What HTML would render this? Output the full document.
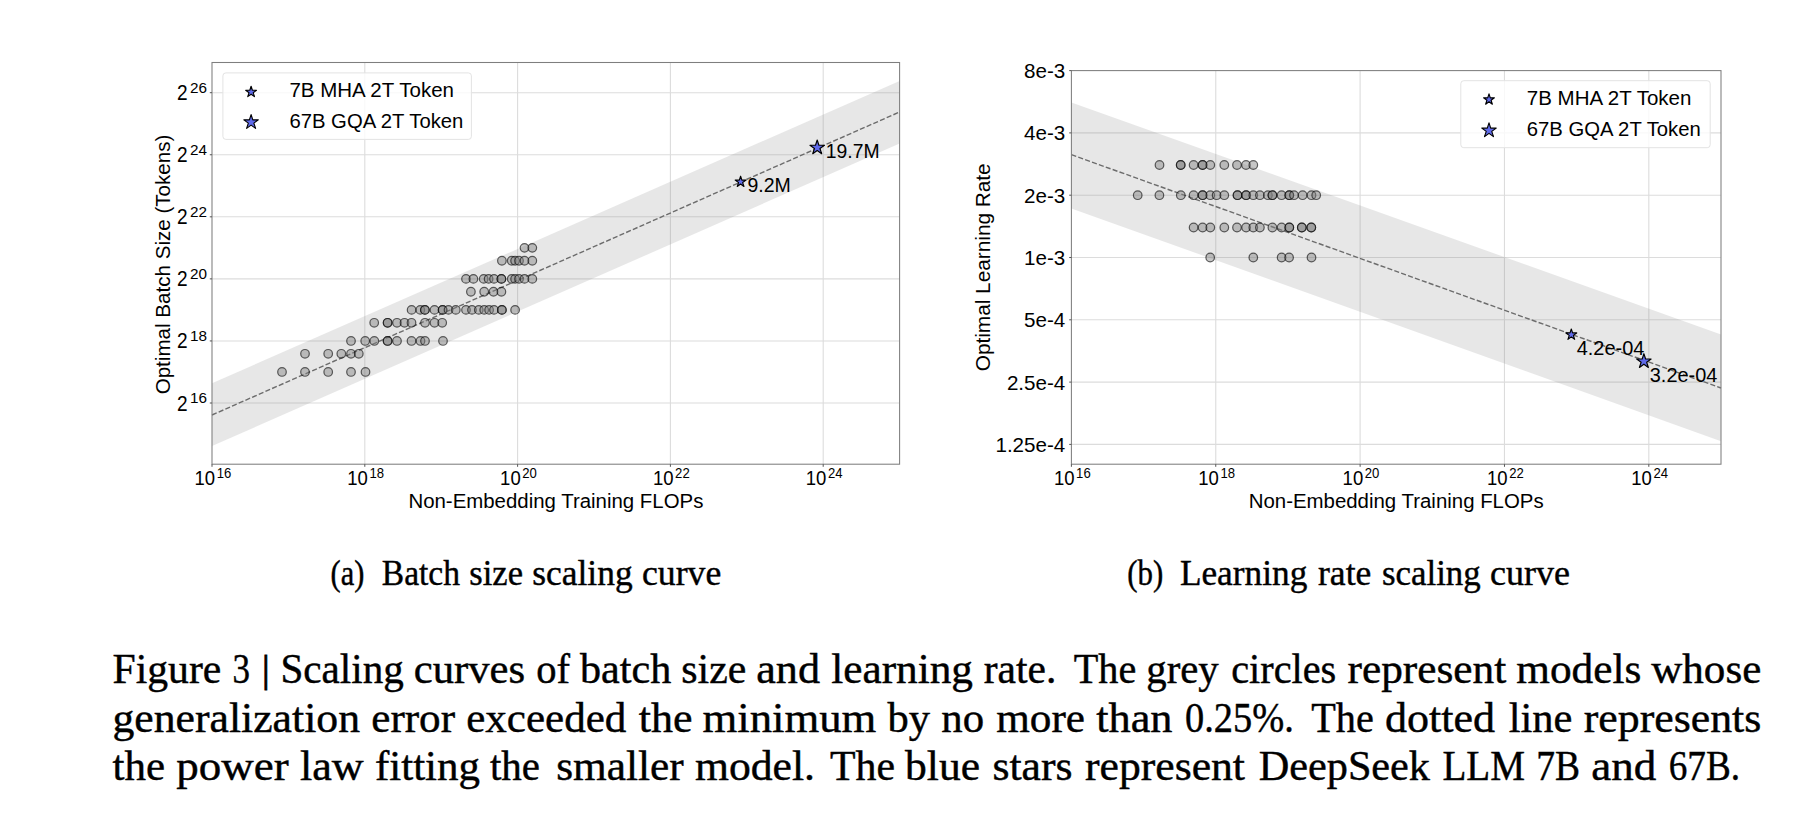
<!DOCTYPE html>
<html><head><meta charset="utf-8"><title>Figure 3 | Scaling curves of batch size and learning rate</title>
<style>html,body{margin:0;padding:0;background:#fff;}body{width:1800px;height:814px;overflow:hidden;}svg{display:block;}text{fill:#000;}</style>
</head><body>
<svg width='1800' height='814' viewBox='0 0 1800 814'>
<g>
<line x1='364.80' y1='62.5' x2='364.80' y2='464.2' stroke='#dcdcdc' stroke-width='1.1'/>
<line x1='517.60' y1='62.5' x2='517.60' y2='464.2' stroke='#dcdcdc' stroke-width='1.1'/>
<line x1='670.40' y1='62.5' x2='670.40' y2='464.2' stroke='#dcdcdc' stroke-width='1.1'/>
<line x1='823.20' y1='62.5' x2='823.20' y2='464.2' stroke='#dcdcdc' stroke-width='1.1'/>
<line x1='212.0' y1='403.00' x2='899.6' y2='403.00' stroke='#dcdcdc' stroke-width='1.1'/>
<line x1='212.0' y1='340.94' x2='899.6' y2='340.94' stroke='#dcdcdc' stroke-width='1.1'/>
<line x1='212.0' y1='278.88' x2='899.6' y2='278.88' stroke='#dcdcdc' stroke-width='1.1'/>
<line x1='212.0' y1='216.82' x2='899.6' y2='216.82' stroke='#dcdcdc' stroke-width='1.1'/>
<line x1='212.0' y1='154.76' x2='899.6' y2='154.76' stroke='#dcdcdc' stroke-width='1.1'/>
<line x1='212.0' y1='92.70' x2='899.6' y2='92.70' stroke='#dcdcdc' stroke-width='1.1'/>
<polygon points='212.0,383.3 899.6,81.0 899.6,143.6 212.0,446.0' fill='#808080' fill-opacity='0.19'/>
<line x1='212.0' y1='415.0' x2='899.6' y2='112.0' stroke='#6c6c6c' stroke-width='1.4' stroke-dasharray='5.1 2.2'/>
<circle cx='282' cy='371.97' r='4.3' fill='#808080' fill-opacity='0.45' stroke='#000' stroke-opacity='0.6' stroke-width='1.2'/>
<circle cx='305' cy='371.97' r='4.3' fill='#808080' fill-opacity='0.45' stroke='#000' stroke-opacity='0.6' stroke-width='1.2'/>
<circle cx='328.2' cy='371.97' r='4.3' fill='#808080' fill-opacity='0.45' stroke='#000' stroke-opacity='0.6' stroke-width='1.2'/>
<circle cx='351' cy='371.97' r='4.3' fill='#808080' fill-opacity='0.45' stroke='#000' stroke-opacity='0.6' stroke-width='1.2'/>
<circle cx='365.5' cy='371.97' r='4.3' fill='#808080' fill-opacity='0.45' stroke='#000' stroke-opacity='0.6' stroke-width='1.2'/>
<circle cx='305' cy='353.82' r='4.3' fill='#808080' fill-opacity='0.45' stroke='#000' stroke-opacity='0.6' stroke-width='1.2'/>
<circle cx='328.2' cy='353.82' r='4.3' fill='#808080' fill-opacity='0.45' stroke='#000' stroke-opacity='0.6' stroke-width='1.2'/>
<circle cx='341.3' cy='353.82' r='4.3' fill='#808080' fill-opacity='0.45' stroke='#000' stroke-opacity='0.6' stroke-width='1.2'/>
<circle cx='351' cy='353.82' r='4.3' fill='#808080' fill-opacity='0.45' stroke='#000' stroke-opacity='0.6' stroke-width='1.2'/>
<circle cx='358.8' cy='353.82' r='4.3' fill='#808080' fill-opacity='0.45' stroke='#000' stroke-opacity='0.6' stroke-width='1.2'/>
<circle cx='351' cy='340.94' r='4.3' fill='#808080' fill-opacity='0.45' stroke='#000' stroke-opacity='0.6' stroke-width='1.2'/>
<circle cx='365.2' cy='340.94' r='4.3' fill='#808080' fill-opacity='0.45' stroke='#000' stroke-opacity='0.6' stroke-width='1.2'/>
<circle cx='374.3' cy='340.94' r='4.3' fill='#808080' fill-opacity='0.45' stroke='#000' stroke-opacity='0.6' stroke-width='1.2'/>
<circle cx='387.6' cy='340.94' r='4.3' fill='#808080' fill-opacity='0.45' stroke='#000' stroke-opacity='0.6' stroke-width='1.2'/>
<circle cx='387.6' cy='340.94' r='4.3' fill='#808080' fill-opacity='0.45' stroke='#000' stroke-opacity='0.6' stroke-width='1.2'/>
<circle cx='397' cy='340.94' r='4.3' fill='#808080' fill-opacity='0.45' stroke='#000' stroke-opacity='0.6' stroke-width='1.2'/>
<circle cx='411.5' cy='340.94' r='4.3' fill='#808080' fill-opacity='0.45' stroke='#000' stroke-opacity='0.6' stroke-width='1.2'/>
<circle cx='420.5' cy='340.94' r='4.3' fill='#808080' fill-opacity='0.45' stroke='#000' stroke-opacity='0.6' stroke-width='1.2'/>
<circle cx='425' cy='340.94' r='4.3' fill='#808080' fill-opacity='0.45' stroke='#000' stroke-opacity='0.6' stroke-width='1.2'/>
<circle cx='443' cy='340.94' r='4.3' fill='#808080' fill-opacity='0.45' stroke='#000' stroke-opacity='0.6' stroke-width='1.2'/>
<circle cx='374.2' cy='322.79' r='4.3' fill='#808080' fill-opacity='0.45' stroke='#000' stroke-opacity='0.6' stroke-width='1.2'/>
<circle cx='387.6' cy='322.79' r='4.3' fill='#808080' fill-opacity='0.45' stroke='#000' stroke-opacity='0.6' stroke-width='1.2'/>
<circle cx='387.6' cy='322.79' r='4.3' fill='#808080' fill-opacity='0.45' stroke='#000' stroke-opacity='0.6' stroke-width='1.2'/>
<circle cx='397' cy='322.79' r='4.3' fill='#808080' fill-opacity='0.45' stroke='#000' stroke-opacity='0.6' stroke-width='1.2'/>
<circle cx='404.5' cy='322.79' r='4.3' fill='#808080' fill-opacity='0.45' stroke='#000' stroke-opacity='0.6' stroke-width='1.2'/>
<circle cx='411.5' cy='322.79' r='4.3' fill='#808080' fill-opacity='0.45' stroke='#000' stroke-opacity='0.6' stroke-width='1.2'/>
<circle cx='425' cy='322.79' r='4.3' fill='#808080' fill-opacity='0.45' stroke='#000' stroke-opacity='0.6' stroke-width='1.2'/>
<circle cx='434.5' cy='322.79' r='4.3' fill='#808080' fill-opacity='0.45' stroke='#000' stroke-opacity='0.6' stroke-width='1.2'/>
<circle cx='442.2' cy='322.79' r='4.3' fill='#808080' fill-opacity='0.45' stroke='#000' stroke-opacity='0.6' stroke-width='1.2'/>
<circle cx='411.6' cy='309.91' r='4.3' fill='#808080' fill-opacity='0.45' stroke='#000' stroke-opacity='0.6' stroke-width='1.2'/>
<circle cx='420.3' cy='309.91' r='4.3' fill='#808080' fill-opacity='0.45' stroke='#000' stroke-opacity='0.6' stroke-width='1.2'/>
<circle cx='424.9' cy='309.91' r='4.3' fill='#808080' fill-opacity='0.45' stroke='#000' stroke-opacity='0.6' stroke-width='1.2'/>
<circle cx='424.9' cy='309.91' r='4.3' fill='#808080' fill-opacity='0.45' stroke='#000' stroke-opacity='0.6' stroke-width='1.2'/>
<circle cx='434.5' cy='309.91' r='4.3' fill='#808080' fill-opacity='0.45' stroke='#000' stroke-opacity='0.6' stroke-width='1.2'/>
<circle cx='442.6' cy='309.91' r='4.3' fill='#808080' fill-opacity='0.45' stroke='#000' stroke-opacity='0.6' stroke-width='1.2'/>
<circle cx='442.6' cy='309.91' r='4.3' fill='#808080' fill-opacity='0.45' stroke='#000' stroke-opacity='0.6' stroke-width='1.2'/>
<circle cx='448.5' cy='309.91' r='4.3' fill='#808080' fill-opacity='0.45' stroke='#000' stroke-opacity='0.6' stroke-width='1.2'/>
<circle cx='455.8' cy='309.91' r='4.3' fill='#808080' fill-opacity='0.45' stroke='#000' stroke-opacity='0.6' stroke-width='1.2'/>
<circle cx='466' cy='309.91' r='4.3' fill='#808080' fill-opacity='0.45' stroke='#000' stroke-opacity='0.6' stroke-width='1.2'/>
<circle cx='472' cy='309.91' r='4.3' fill='#808080' fill-opacity='0.45' stroke='#000' stroke-opacity='0.6' stroke-width='1.2'/>
<circle cx='478.8' cy='309.91' r='4.3' fill='#808080' fill-opacity='0.45' stroke='#000' stroke-opacity='0.6' stroke-width='1.2'/>
<circle cx='484.2' cy='309.91' r='4.3' fill='#808080' fill-opacity='0.45' stroke='#000' stroke-opacity='0.6' stroke-width='1.2'/>
<circle cx='489.1' cy='309.91' r='4.3' fill='#808080' fill-opacity='0.45' stroke='#000' stroke-opacity='0.6' stroke-width='1.2'/>
<circle cx='494' cy='309.91' r='4.3' fill='#808080' fill-opacity='0.45' stroke='#000' stroke-opacity='0.6' stroke-width='1.2'/>
<circle cx='501.9' cy='309.91' r='4.3' fill='#808080' fill-opacity='0.45' stroke='#000' stroke-opacity='0.6' stroke-width='1.2'/>
<circle cx='501.9' cy='309.91' r='4.3' fill='#808080' fill-opacity='0.45' stroke='#000' stroke-opacity='0.6' stroke-width='1.2'/>
<circle cx='515.1' cy='309.91' r='4.3' fill='#808080' fill-opacity='0.45' stroke='#000' stroke-opacity='0.6' stroke-width='1.2'/>
<circle cx='470.9' cy='291.76' r='4.3' fill='#808080' fill-opacity='0.45' stroke='#000' stroke-opacity='0.6' stroke-width='1.2'/>
<circle cx='484.2' cy='291.76' r='4.3' fill='#808080' fill-opacity='0.45' stroke='#000' stroke-opacity='0.6' stroke-width='1.2'/>
<circle cx='493.5' cy='291.76' r='4.3' fill='#808080' fill-opacity='0.45' stroke='#000' stroke-opacity='0.6' stroke-width='1.2'/>
<circle cx='501.4' cy='291.76' r='4.3' fill='#808080' fill-opacity='0.45' stroke='#000' stroke-opacity='0.6' stroke-width='1.2'/>
<circle cx='466' cy='278.88' r='4.3' fill='#808080' fill-opacity='0.45' stroke='#000' stroke-opacity='0.6' stroke-width='1.2'/>
<circle cx='473.4' cy='278.88' r='4.3' fill='#808080' fill-opacity='0.45' stroke='#000' stroke-opacity='0.6' stroke-width='1.2'/>
<circle cx='483.7' cy='278.88' r='4.3' fill='#808080' fill-opacity='0.45' stroke='#000' stroke-opacity='0.6' stroke-width='1.2'/>
<circle cx='488.6' cy='278.88' r='4.3' fill='#808080' fill-opacity='0.45' stroke='#000' stroke-opacity='0.6' stroke-width='1.2'/>
<circle cx='494' cy='278.88' r='4.3' fill='#808080' fill-opacity='0.45' stroke='#000' stroke-opacity='0.6' stroke-width='1.2'/>
<circle cx='501.4' cy='278.88' r='4.3' fill='#808080' fill-opacity='0.45' stroke='#000' stroke-opacity='0.6' stroke-width='1.2'/>
<circle cx='501.4' cy='278.88' r='4.3' fill='#808080' fill-opacity='0.45' stroke='#000' stroke-opacity='0.6' stroke-width='1.2'/>
<circle cx='511.7' cy='278.88' r='4.3' fill='#808080' fill-opacity='0.45' stroke='#000' stroke-opacity='0.6' stroke-width='1.2'/>
<circle cx='515.1' cy='278.88' r='4.3' fill='#808080' fill-opacity='0.45' stroke='#000' stroke-opacity='0.6' stroke-width='1.2'/>
<circle cx='519' cy='278.88' r='4.3' fill='#808080' fill-opacity='0.45' stroke='#000' stroke-opacity='0.6' stroke-width='1.2'/>
<circle cx='524.5' cy='278.88' r='4.3' fill='#808080' fill-opacity='0.45' stroke='#000' stroke-opacity='0.6' stroke-width='1.2'/>
<circle cx='532.3' cy='278.88' r='4.3' fill='#808080' fill-opacity='0.45' stroke='#000' stroke-opacity='0.6' stroke-width='1.2'/>
<circle cx='501.9' cy='260.73' r='4.3' fill='#808080' fill-opacity='0.45' stroke='#000' stroke-opacity='0.6' stroke-width='1.2'/>
<circle cx='511.7' cy='260.73' r='4.3' fill='#808080' fill-opacity='0.45' stroke='#000' stroke-opacity='0.6' stroke-width='1.2'/>
<circle cx='515.1' cy='260.73' r='4.3' fill='#808080' fill-opacity='0.45' stroke='#000' stroke-opacity='0.6' stroke-width='1.2'/>
<circle cx='519' cy='260.73' r='4.3' fill='#808080' fill-opacity='0.45' stroke='#000' stroke-opacity='0.6' stroke-width='1.2'/>
<circle cx='524.5' cy='260.73' r='4.3' fill='#808080' fill-opacity='0.45' stroke='#000' stroke-opacity='0.6' stroke-width='1.2'/>
<circle cx='532.3' cy='260.73' r='4.3' fill='#808080' fill-opacity='0.45' stroke='#000' stroke-opacity='0.6' stroke-width='1.2'/>
<circle cx='524.5' cy='247.85' r='4.3' fill='#808080' fill-opacity='0.45' stroke='#000' stroke-opacity='0.6' stroke-width='1.2'/>
<circle cx='532.3' cy='247.85' r='4.3' fill='#808080' fill-opacity='0.45' stroke='#000' stroke-opacity='0.6' stroke-width='1.2'/>
<polygon points='740.60,176.20 741.88,180.14 746.02,180.14 742.67,182.57 743.95,186.51 740.60,184.08 737.25,186.51 738.53,182.57 735.18,180.14 739.32,180.14' fill='#5f6aea' stroke='#000' stroke-width='1.15' stroke-linejoin='round'/>
<polygon points='817.20,140.00 818.91,145.25 824.43,145.25 819.96,148.50 821.67,153.75 817.20,150.50 812.73,153.75 814.44,148.50 809.97,145.25 815.49,145.25' fill='#5f6aea' stroke='#000' stroke-width='1.15' stroke-linejoin='round'/>
<text x='747.40' y='192.20' font-size='20' text-anchor='start' font-family="'Liberation Sans', 'DejaVu Sans', sans-serif" textLength='43.40' lengthAdjust='spacingAndGlyphs'>9.2M</text>
<text x='825.80' y='157.90' font-size='20' text-anchor='start' font-family="'Liberation Sans', 'DejaVu Sans', sans-serif" textLength='53.80' lengthAdjust='spacingAndGlyphs'>19.7M</text>
<rect x='212.0' y='62.5' width='687.60' height='401.70' fill='none' stroke='#7e7e7e' stroke-width='1.05'/>
<line x1='212.00' y1='464.2' x2='212.00' y2='466.8' stroke='#555' stroke-width='1'/>
<line x1='364.80' y1='464.2' x2='364.80' y2='466.8' stroke='#555' stroke-width='1'/>
<line x1='517.60' y1='464.2' x2='517.60' y2='466.8' stroke='#555' stroke-width='1'/>
<line x1='670.40' y1='464.2' x2='670.40' y2='466.8' stroke='#555' stroke-width='1'/>
<line x1='823.20' y1='464.2' x2='823.20' y2='466.8' stroke='#555' stroke-width='1'/>
<line x1='209.8' y1='403.00' x2='212.0' y2='403.00' stroke='#555' stroke-width='1'/>
<line x1='209.8' y1='340.94' x2='212.0' y2='340.94' stroke='#555' stroke-width='1'/>
<line x1='209.8' y1='278.88' x2='212.0' y2='278.88' stroke='#555' stroke-width='1'/>
<line x1='209.8' y1='216.82' x2='212.0' y2='216.82' stroke='#555' stroke-width='1'/>
<line x1='209.8' y1='154.76' x2='212.0' y2='154.76' stroke='#555' stroke-width='1'/>
<line x1='209.8' y1='92.70' x2='212.0' y2='92.70' stroke='#555' stroke-width='1'/>
<text x='194.50' y='485' font-size='20.6' font-family="'Liberation Sans', 'DejaVu Sans', sans-serif"><tspan textLength='20.6' lengthAdjust='spacingAndGlyphs'>10</tspan></text>
<text x='216.70' y='478.00' font-size='14.4' text-anchor='start' font-family="'Liberation Sans', 'DejaVu Sans', sans-serif" textLength='14.60' lengthAdjust='spacingAndGlyphs'>16</text>
<text x='347.30' y='485' font-size='20.6' font-family="'Liberation Sans', 'DejaVu Sans', sans-serif"><tspan textLength='20.6' lengthAdjust='spacingAndGlyphs'>10</tspan></text>
<text x='369.50' y='478.00' font-size='14.4' text-anchor='start' font-family="'Liberation Sans', 'DejaVu Sans', sans-serif" textLength='14.60' lengthAdjust='spacingAndGlyphs'>18</text>
<text x='500.10' y='485' font-size='20.6' font-family="'Liberation Sans', 'DejaVu Sans', sans-serif"><tspan textLength='20.6' lengthAdjust='spacingAndGlyphs'>10</tspan></text>
<text x='522.30' y='478.00' font-size='14.4' text-anchor='start' font-family="'Liberation Sans', 'DejaVu Sans', sans-serif" textLength='14.60' lengthAdjust='spacingAndGlyphs'>20</text>
<text x='652.90' y='485' font-size='20.6' font-family="'Liberation Sans', 'DejaVu Sans', sans-serif"><tspan textLength='20.6' lengthAdjust='spacingAndGlyphs'>10</tspan></text>
<text x='675.10' y='478.00' font-size='14.4' text-anchor='start' font-family="'Liberation Sans', 'DejaVu Sans', sans-serif" textLength='14.60' lengthAdjust='spacingAndGlyphs'>22</text>
<text x='805.70' y='485' font-size='20.6' font-family="'Liberation Sans', 'DejaVu Sans', sans-serif"><tspan textLength='20.6' lengthAdjust='spacingAndGlyphs'>10</tspan></text>
<text x='827.90' y='478.00' font-size='14.4' text-anchor='start' font-family="'Liberation Sans', 'DejaVu Sans', sans-serif" textLength='14.60' lengthAdjust='spacingAndGlyphs'>24</text>
<text x='176.90' y='410.50' font-size='21.8' text-anchor='start' font-family="'Liberation Sans', 'DejaVu Sans', sans-serif" textLength='10.60' lengthAdjust='spacingAndGlyphs'>2</text>
<text x='190.10' y='402.80' font-size='15.2' text-anchor='start' font-family="'Liberation Sans', 'DejaVu Sans', sans-serif" textLength='17.00' lengthAdjust='spacingAndGlyphs'>16</text>
<text x='176.90' y='348.44' font-size='21.8' text-anchor='start' font-family="'Liberation Sans', 'DejaVu Sans', sans-serif" textLength='10.60' lengthAdjust='spacingAndGlyphs'>2</text>
<text x='190.10' y='340.74' font-size='15.2' text-anchor='start' font-family="'Liberation Sans', 'DejaVu Sans', sans-serif" textLength='17.00' lengthAdjust='spacingAndGlyphs'>18</text>
<text x='176.90' y='286.38' font-size='21.8' text-anchor='start' font-family="'Liberation Sans', 'DejaVu Sans', sans-serif" textLength='10.60' lengthAdjust='spacingAndGlyphs'>2</text>
<text x='190.10' y='278.68' font-size='15.2' text-anchor='start' font-family="'Liberation Sans', 'DejaVu Sans', sans-serif" textLength='17.00' lengthAdjust='spacingAndGlyphs'>20</text>
<text x='176.90' y='224.32' font-size='21.8' text-anchor='start' font-family="'Liberation Sans', 'DejaVu Sans', sans-serif" textLength='10.60' lengthAdjust='spacingAndGlyphs'>2</text>
<text x='190.10' y='216.62' font-size='15.2' text-anchor='start' font-family="'Liberation Sans', 'DejaVu Sans', sans-serif" textLength='17.00' lengthAdjust='spacingAndGlyphs'>22</text>
<text x='176.90' y='162.26' font-size='21.8' text-anchor='start' font-family="'Liberation Sans', 'DejaVu Sans', sans-serif" textLength='10.60' lengthAdjust='spacingAndGlyphs'>2</text>
<text x='190.10' y='154.56' font-size='15.2' text-anchor='start' font-family="'Liberation Sans', 'DejaVu Sans', sans-serif" textLength='17.00' lengthAdjust='spacingAndGlyphs'>24</text>
<text x='176.90' y='100.20' font-size='21.8' text-anchor='start' font-family="'Liberation Sans', 'DejaVu Sans', sans-serif" textLength='10.60' lengthAdjust='spacingAndGlyphs'>2</text>
<text x='190.10' y='92.50' font-size='15.2' text-anchor='start' font-family="'Liberation Sans', 'DejaVu Sans', sans-serif" textLength='17.00' lengthAdjust='spacingAndGlyphs'>26</text>
<text x='555.90' y='508.00' font-size='20' text-anchor='middle' font-family="'Liberation Sans', 'DejaVu Sans', sans-serif" textLength='295.00' lengthAdjust='spacingAndGlyphs'>Non-Embedding Training FLOPs</text>
<text transform='translate(169.5,264.5) rotate(-90)' x='0' y='0' font-size='20' text-anchor='middle' font-family="'Liberation Sans', 'DejaVu Sans', sans-serif" textLength='259.7' lengthAdjust='spacingAndGlyphs'>Optimal Batch Size (Tokens)</text>
<rect x='222.9' y='72.9' width='248.5' height='66.5' rx='3' ry='3' fill='#fff' fill-opacity='0.8' stroke='#e3e3e3' stroke-width='1'/>
<polygon points='251.10,86.30 252.38,90.24 256.52,90.24 253.17,92.67 254.45,96.61 251.10,94.18 247.75,96.61 249.03,92.67 245.68,90.24 249.82,90.24' fill='#5f6aea' stroke='#000' stroke-width='1.15' stroke-linejoin='round'/>
<polygon points='251.10,114.60 252.81,119.85 258.33,119.85 253.86,123.10 255.57,128.35 251.10,125.10 246.63,128.35 248.34,123.10 243.87,119.85 249.39,119.85' fill='#5f6aea' stroke='#000' stroke-width='1.15' stroke-linejoin='round'/>
<text x='289.40' y='96.80' font-size='20' text-anchor='start' font-family="'Liberation Sans', 'DejaVu Sans', sans-serif" textLength='164.60' lengthAdjust='spacingAndGlyphs'>7B MHA 2T Token</text>
<text x='289.40' y='127.80' font-size='20' text-anchor='start' font-family="'Liberation Sans', 'DejaVu Sans', sans-serif" textLength='174.00' lengthAdjust='spacingAndGlyphs'>67B GQA 2T Token</text>
</g>
<g>
<line x1='1215.76' y1='70.6' x2='1215.76' y2='464.2' stroke='#dcdcdc' stroke-width='1.1'/>
<line x1='1360.11' y1='70.6' x2='1360.11' y2='464.2' stroke='#dcdcdc' stroke-width='1.1'/>
<line x1='1504.47' y1='70.6' x2='1504.47' y2='464.2' stroke='#dcdcdc' stroke-width='1.1'/>
<line x1='1648.82' y1='70.6' x2='1648.82' y2='464.2' stroke='#dcdcdc' stroke-width='1.1'/>
<line x1='1071.4' y1='132.90' x2='1721.0' y2='132.90' stroke='#dcdcdc' stroke-width='1.1'/>
<line x1='1071.4' y1='195.20' x2='1721.0' y2='195.20' stroke='#dcdcdc' stroke-width='1.1'/>
<line x1='1071.4' y1='257.50' x2='1721.0' y2='257.50' stroke='#dcdcdc' stroke-width='1.1'/>
<line x1='1071.4' y1='319.80' x2='1721.0' y2='319.80' stroke='#dcdcdc' stroke-width='1.1'/>
<line x1='1071.4' y1='382.10' x2='1721.0' y2='382.10' stroke='#dcdcdc' stroke-width='1.1'/>
<line x1='1071.4' y1='444.40' x2='1721.0' y2='444.40' stroke='#dcdcdc' stroke-width='1.1'/>
<polygon points='1071.4,102.4 1721.0,334.4 1721.0,441.2 1071.4,208.4' fill='#808080' fill-opacity='0.19'/>
<line x1='1071.4' y1='154.7' x2='1721.0' y2='388.0' stroke='#6c6c6c' stroke-width='1.4' stroke-dasharray='5.1 2.2'/>
<circle cx='1159.5' cy='165.0' r='4.3' fill='#808080' fill-opacity='0.45' stroke='#000' stroke-opacity='0.6' stroke-width='1.2'/>
<circle cx='1180.7' cy='165.0' r='4.3' fill='#808080' fill-opacity='0.45' stroke='#000' stroke-opacity='0.6' stroke-width='1.2'/>
<circle cx='1180.7' cy='165.0' r='4.3' fill='#808080' fill-opacity='0.45' stroke='#000' stroke-opacity='0.6' stroke-width='1.2'/>
<circle cx='1193.6' cy='165.0' r='4.3' fill='#808080' fill-opacity='0.45' stroke='#000' stroke-opacity='0.6' stroke-width='1.2'/>
<circle cx='1202.6' cy='165.0' r='4.3' fill='#808080' fill-opacity='0.45' stroke='#000' stroke-opacity='0.6' stroke-width='1.2'/>
<circle cx='1202.6' cy='165.0' r='4.3' fill='#808080' fill-opacity='0.45' stroke='#000' stroke-opacity='0.6' stroke-width='1.2'/>
<circle cx='1210.3' cy='165.0' r='4.3' fill='#808080' fill-opacity='0.45' stroke='#000' stroke-opacity='0.6' stroke-width='1.2'/>
<circle cx='1224.3' cy='165.0' r='4.3' fill='#808080' fill-opacity='0.45' stroke='#000' stroke-opacity='0.6' stroke-width='1.2'/>
<circle cx='1237' cy='165.0' r='4.3' fill='#808080' fill-opacity='0.45' stroke='#000' stroke-opacity='0.6' stroke-width='1.2'/>
<circle cx='1246' cy='165.0' r='4.3' fill='#808080' fill-opacity='0.45' stroke='#000' stroke-opacity='0.6' stroke-width='1.2'/>
<circle cx='1253.3' cy='165.0' r='4.3' fill='#808080' fill-opacity='0.45' stroke='#000' stroke-opacity='0.6' stroke-width='1.2'/>
<circle cx='1137.7' cy='195.2' r='4.3' fill='#808080' fill-opacity='0.45' stroke='#000' stroke-opacity='0.6' stroke-width='1.2'/>
<circle cx='1159.4' cy='195.2' r='4.3' fill='#808080' fill-opacity='0.45' stroke='#000' stroke-opacity='0.6' stroke-width='1.2'/>
<circle cx='1180.8' cy='195.2' r='4.3' fill='#808080' fill-opacity='0.45' stroke='#000' stroke-opacity='0.6' stroke-width='1.2'/>
<circle cx='1193.6' cy='195.2' r='4.3' fill='#808080' fill-opacity='0.45' stroke='#000' stroke-opacity='0.6' stroke-width='1.2'/>
<circle cx='1202.6' cy='195.2' r='4.3' fill='#808080' fill-opacity='0.45' stroke='#000' stroke-opacity='0.6' stroke-width='1.2'/>
<circle cx='1202.6' cy='195.2' r='4.3' fill='#808080' fill-opacity='0.45' stroke='#000' stroke-opacity='0.6' stroke-width='1.2'/>
<circle cx='1210.3' cy='195.2' r='4.3' fill='#808080' fill-opacity='0.45' stroke='#000' stroke-opacity='0.6' stroke-width='1.2'/>
<circle cx='1216.6' cy='195.2' r='4.3' fill='#808080' fill-opacity='0.45' stroke='#000' stroke-opacity='0.6' stroke-width='1.2'/>
<circle cx='1224.3' cy='195.2' r='4.3' fill='#808080' fill-opacity='0.45' stroke='#000' stroke-opacity='0.6' stroke-width='1.2'/>
<circle cx='1237.5' cy='195.2' r='4.3' fill='#808080' fill-opacity='0.45' stroke='#000' stroke-opacity='0.6' stroke-width='1.2'/>
<circle cx='1237.5' cy='195.2' r='4.3' fill='#808080' fill-opacity='0.45' stroke='#000' stroke-opacity='0.6' stroke-width='1.2'/>
<circle cx='1246.1' cy='195.2' r='4.3' fill='#808080' fill-opacity='0.45' stroke='#000' stroke-opacity='0.6' stroke-width='1.2'/>
<circle cx='1246.1' cy='195.2' r='4.3' fill='#808080' fill-opacity='0.45' stroke='#000' stroke-opacity='0.6' stroke-width='1.2'/>
<circle cx='1253.3' cy='195.2' r='4.3' fill='#808080' fill-opacity='0.45' stroke='#000' stroke-opacity='0.6' stroke-width='1.2'/>
<circle cx='1259.9' cy='195.2' r='4.3' fill='#808080' fill-opacity='0.45' stroke='#000' stroke-opacity='0.6' stroke-width='1.2'/>
<circle cx='1267.9' cy='195.2' r='4.3' fill='#808080' fill-opacity='0.45' stroke='#000' stroke-opacity='0.6' stroke-width='1.2'/>
<circle cx='1272.4' cy='195.2' r='4.3' fill='#808080' fill-opacity='0.45' stroke='#000' stroke-opacity='0.6' stroke-width='1.2'/>
<circle cx='1272.4' cy='195.2' r='4.3' fill='#808080' fill-opacity='0.45' stroke='#000' stroke-opacity='0.6' stroke-width='1.2'/>
<circle cx='1281.6' cy='195.2' r='4.3' fill='#808080' fill-opacity='0.45' stroke='#000' stroke-opacity='0.6' stroke-width='1.2'/>
<circle cx='1289.3' cy='195.2' r='4.3' fill='#808080' fill-opacity='0.45' stroke='#000' stroke-opacity='0.6' stroke-width='1.2'/>
<circle cx='1289.3' cy='195.2' r='4.3' fill='#808080' fill-opacity='0.45' stroke='#000' stroke-opacity='0.6' stroke-width='1.2'/>
<circle cx='1294' cy='195.2' r='4.3' fill='#808080' fill-opacity='0.45' stroke='#000' stroke-opacity='0.6' stroke-width='1.2'/>
<circle cx='1302.6' cy='195.2' r='4.3' fill='#808080' fill-opacity='0.45' stroke='#000' stroke-opacity='0.6' stroke-width='1.2'/>
<circle cx='1311.5' cy='195.2' r='4.3' fill='#808080' fill-opacity='0.45' stroke='#000' stroke-opacity='0.6' stroke-width='1.2'/>
<circle cx='1316.2' cy='195.2' r='4.3' fill='#808080' fill-opacity='0.45' stroke='#000' stroke-opacity='0.6' stroke-width='1.2'/>
<circle cx='1193.6' cy='227.5' r='4.3' fill='#808080' fill-opacity='0.45' stroke='#000' stroke-opacity='0.6' stroke-width='1.2'/>
<circle cx='1202.6' cy='227.5' r='4.3' fill='#808080' fill-opacity='0.45' stroke='#000' stroke-opacity='0.6' stroke-width='1.2'/>
<circle cx='1210.3' cy='227.5' r='4.3' fill='#808080' fill-opacity='0.45' stroke='#000' stroke-opacity='0.6' stroke-width='1.2'/>
<circle cx='1224.3' cy='227.5' r='4.3' fill='#808080' fill-opacity='0.45' stroke='#000' stroke-opacity='0.6' stroke-width='1.2'/>
<circle cx='1237' cy='227.5' r='4.3' fill='#808080' fill-opacity='0.45' stroke='#000' stroke-opacity='0.6' stroke-width='1.2'/>
<circle cx='1246.1' cy='227.5' r='4.3' fill='#808080' fill-opacity='0.45' stroke='#000' stroke-opacity='0.6' stroke-width='1.2'/>
<circle cx='1253.3' cy='227.5' r='4.3' fill='#808080' fill-opacity='0.45' stroke='#000' stroke-opacity='0.6' stroke-width='1.2'/>
<circle cx='1259.9' cy='227.5' r='4.3' fill='#808080' fill-opacity='0.45' stroke='#000' stroke-opacity='0.6' stroke-width='1.2'/>
<circle cx='1272.4' cy='227.5' r='4.3' fill='#808080' fill-opacity='0.45' stroke='#000' stroke-opacity='0.6' stroke-width='1.2'/>
<circle cx='1281.6' cy='227.5' r='4.3' fill='#808080' fill-opacity='0.45' stroke='#000' stroke-opacity='0.6' stroke-width='1.2'/>
<circle cx='1289.3' cy='227.5' r='4.3' fill='#808080' fill-opacity='0.45' stroke='#000' stroke-opacity='0.6' stroke-width='1.2'/>
<circle cx='1289.3' cy='227.5' r='4.3' fill='#808080' fill-opacity='0.45' stroke='#000' stroke-opacity='0.6' stroke-width='1.2'/>
<circle cx='1301.8' cy='227.5' r='4.3' fill='#808080' fill-opacity='0.45' stroke='#000' stroke-opacity='0.6' stroke-width='1.2'/>
<circle cx='1301.8' cy='227.5' r='4.3' fill='#808080' fill-opacity='0.45' stroke='#000' stroke-opacity='0.6' stroke-width='1.2'/>
<circle cx='1311.3' cy='227.5' r='4.3' fill='#808080' fill-opacity='0.45' stroke='#000' stroke-opacity='0.6' stroke-width='1.2'/>
<circle cx='1311.3' cy='227.5' r='4.3' fill='#808080' fill-opacity='0.45' stroke='#000' stroke-opacity='0.6' stroke-width='1.2'/>
<circle cx='1210.2' cy='257.5' r='4.3' fill='#808080' fill-opacity='0.45' stroke='#000' stroke-opacity='0.6' stroke-width='1.2'/>
<circle cx='1253.3' cy='257.5' r='4.3' fill='#808080' fill-opacity='0.45' stroke='#000' stroke-opacity='0.6' stroke-width='1.2'/>
<circle cx='1281.6' cy='257.5' r='4.3' fill='#808080' fill-opacity='0.45' stroke='#000' stroke-opacity='0.6' stroke-width='1.2'/>
<circle cx='1289.1' cy='257.5' r='4.3' fill='#808080' fill-opacity='0.45' stroke='#000' stroke-opacity='0.6' stroke-width='1.2'/>
<circle cx='1311.5' cy='257.5' r='4.3' fill='#808080' fill-opacity='0.45' stroke='#000' stroke-opacity='0.6' stroke-width='1.2'/>
<polygon points='1571.30,329.00 1572.58,332.94 1576.72,332.94 1573.37,335.37 1574.65,339.31 1571.30,336.88 1567.95,339.31 1569.23,335.37 1565.88,332.94 1570.02,332.94' fill='#5f6aea' stroke='#000' stroke-width='1.15' stroke-linejoin='round'/>
<polygon points='1643.90,353.70 1645.61,358.95 1651.13,358.95 1646.66,362.20 1648.37,367.45 1643.90,364.20 1639.43,367.45 1641.14,362.20 1636.67,358.95 1642.19,358.95' fill='#5f6aea' stroke='#000' stroke-width='1.15' stroke-linejoin='round'/>
<text x='1576.70' y='355.00' font-size='20' text-anchor='start' font-family="'Liberation Sans', 'DejaVu Sans', sans-serif" textLength='67.70' lengthAdjust='spacingAndGlyphs'>4.2e-04</text>
<text x='1649.80' y='381.50' font-size='20' text-anchor='start' font-family="'Liberation Sans', 'DejaVu Sans', sans-serif" textLength='67.50' lengthAdjust='spacingAndGlyphs'>3.2e-04</text>
<rect x='1071.4' y='70.6' width='649.60' height='393.60' fill='none' stroke='#7e7e7e' stroke-width='1.05'/>
<line x1='1071.40' y1='464.2' x2='1071.40' y2='466.8' stroke='#555' stroke-width='1'/>
<text x='1053.90' y='485' font-size='20.6' font-family="'Liberation Sans', 'DejaVu Sans', sans-serif"><tspan textLength='20.6' lengthAdjust='spacingAndGlyphs'>10</tspan></text>
<text x='1076.10' y='478.00' font-size='14.4' text-anchor='start' font-family="'Liberation Sans', 'DejaVu Sans', sans-serif" textLength='14.60' lengthAdjust='spacingAndGlyphs'>16</text>
<line x1='1215.76' y1='464.2' x2='1215.76' y2='466.8' stroke='#555' stroke-width='1'/>
<text x='1198.26' y='485' font-size='20.6' font-family="'Liberation Sans', 'DejaVu Sans', sans-serif"><tspan textLength='20.6' lengthAdjust='spacingAndGlyphs'>10</tspan></text>
<text x='1220.46' y='478.00' font-size='14.4' text-anchor='start' font-family="'Liberation Sans', 'DejaVu Sans', sans-serif" textLength='14.60' lengthAdjust='spacingAndGlyphs'>18</text>
<line x1='1360.11' y1='464.2' x2='1360.11' y2='466.8' stroke='#555' stroke-width='1'/>
<text x='1342.61' y='485' font-size='20.6' font-family="'Liberation Sans', 'DejaVu Sans', sans-serif"><tspan textLength='20.6' lengthAdjust='spacingAndGlyphs'>10</tspan></text>
<text x='1364.81' y='478.00' font-size='14.4' text-anchor='start' font-family="'Liberation Sans', 'DejaVu Sans', sans-serif" textLength='14.60' lengthAdjust='spacingAndGlyphs'>20</text>
<line x1='1504.47' y1='464.2' x2='1504.47' y2='466.8' stroke='#555' stroke-width='1'/>
<text x='1486.97' y='485' font-size='20.6' font-family="'Liberation Sans', 'DejaVu Sans', sans-serif"><tspan textLength='20.6' lengthAdjust='spacingAndGlyphs'>10</tspan></text>
<text x='1509.17' y='478.00' font-size='14.4' text-anchor='start' font-family="'Liberation Sans', 'DejaVu Sans', sans-serif" textLength='14.60' lengthAdjust='spacingAndGlyphs'>22</text>
<line x1='1648.82' y1='464.2' x2='1648.82' y2='466.8' stroke='#555' stroke-width='1'/>
<text x='1631.32' y='485' font-size='20.6' font-family="'Liberation Sans', 'DejaVu Sans', sans-serif"><tspan textLength='20.6' lengthAdjust='spacingAndGlyphs'>10</tspan></text>
<text x='1653.52' y='478.00' font-size='14.4' text-anchor='start' font-family="'Liberation Sans', 'DejaVu Sans', sans-serif" textLength='14.60' lengthAdjust='spacingAndGlyphs'>24</text>
<line x1='1069.2' y1='70.60' x2='1071.4' y2='70.60' stroke='#555' stroke-width='1'/>
<text x='1065.30' y='78.00' font-size='20.6' text-anchor='end' font-family="'Liberation Sans', 'DejaVu Sans', sans-serif">8e-3</text>
<line x1='1069.2' y1='132.90' x2='1071.4' y2='132.90' stroke='#555' stroke-width='1'/>
<text x='1065.30' y='140.30' font-size='20.6' text-anchor='end' font-family="'Liberation Sans', 'DejaVu Sans', sans-serif">4e-3</text>
<line x1='1069.2' y1='195.20' x2='1071.4' y2='195.20' stroke='#555' stroke-width='1'/>
<text x='1065.30' y='202.60' font-size='20.6' text-anchor='end' font-family="'Liberation Sans', 'DejaVu Sans', sans-serif">2e-3</text>
<line x1='1069.2' y1='257.50' x2='1071.4' y2='257.50' stroke='#555' stroke-width='1'/>
<text x='1065.30' y='264.90' font-size='20.6' text-anchor='end' font-family="'Liberation Sans', 'DejaVu Sans', sans-serif">1e-3</text>
<line x1='1069.2' y1='319.80' x2='1071.4' y2='319.80' stroke='#555' stroke-width='1'/>
<text x='1065.30' y='327.20' font-size='20.6' text-anchor='end' font-family="'Liberation Sans', 'DejaVu Sans', sans-serif">5e-4</text>
<line x1='1069.2' y1='382.10' x2='1071.4' y2='382.10' stroke='#555' stroke-width='1'/>
<text x='1065.30' y='389.50' font-size='20.6' text-anchor='end' font-family="'Liberation Sans', 'DejaVu Sans', sans-serif">2.5e-4</text>
<line x1='1069.2' y1='444.40' x2='1071.4' y2='444.40' stroke='#555' stroke-width='1'/>
<text x='1065.30' y='451.80' font-size='20.6' text-anchor='end' font-family="'Liberation Sans', 'DejaVu Sans', sans-serif">1.25e-4</text>
<text x='1396.20' y='508.00' font-size='20' text-anchor='middle' font-family="'Liberation Sans', 'DejaVu Sans', sans-serif" textLength='295.00' lengthAdjust='spacingAndGlyphs'>Non-Embedding Training FLOPs</text>
<text transform='translate(990,267.3) rotate(-90)' x='0' y='0' font-size='20' text-anchor='middle' font-family="'Liberation Sans', 'DejaVu Sans', sans-serif" textLength='207.9' lengthAdjust='spacingAndGlyphs'>Optimal Learning Rate</text>
<rect x='1460.8' y='80.7' width='249.4' height='67' rx='3' ry='3' fill='#fff' fill-opacity='0.8' stroke='#e3e3e3' stroke-width='1'/>
<polygon points='1489.00,93.90 1490.28,97.84 1494.42,97.84 1491.07,100.27 1492.35,104.21 1489.00,101.78 1485.65,104.21 1486.93,100.27 1483.58,97.84 1487.72,97.84' fill='#5f6aea' stroke='#000' stroke-width='1.15' stroke-linejoin='round'/>
<polygon points='1489.00,122.90 1490.71,128.15 1496.23,128.15 1491.76,131.40 1493.47,136.65 1489.00,133.40 1484.53,136.65 1486.24,131.40 1481.77,128.15 1487.29,128.15' fill='#5f6aea' stroke='#000' stroke-width='1.15' stroke-linejoin='round'/>
<text x='1526.80' y='105.30' font-size='20' text-anchor='start' font-family="'Liberation Sans', 'DejaVu Sans', sans-serif" textLength='164.60' lengthAdjust='spacingAndGlyphs'>7B MHA 2T Token</text>
<text x='1526.80' y='136.00' font-size='20' text-anchor='start' font-family="'Liberation Sans', 'DejaVu Sans', sans-serif" textLength='174.00' lengthAdjust='spacingAndGlyphs'>67B GQA 2T Token</text>
</g>
<text transform='translate(330.50,584.70) scale(1,1.04)' x='0' y='0' font-size='34.5' font-family="'Liberation Serif', 'DejaVu Serif', serif" textLength='33.80' lengthAdjust='spacingAndGlyphs' stroke='#000' stroke-width='0.4'>(a)</text>
<text transform='translate(381.80,584.70) scale(1,1.04)' x='0' y='0' font-size='34.5' font-family="'Liberation Serif', 'DejaVu Serif', serif" textLength='78.20' lengthAdjust='spacingAndGlyphs' stroke='#000' stroke-width='0.4'>Batch</text>
<text transform='translate(469.30,584.70) scale(1,1.04)' x='0' y='0' font-size='34.5' font-family="'Liberation Serif', 'DejaVu Serif', serif" textLength='53.70' lengthAdjust='spacingAndGlyphs' stroke='#000' stroke-width='0.4'>size</text>
<text transform='translate(532.30,584.70) scale(1,1.04)' x='0' y='0' font-size='34.5' font-family="'Liberation Serif', 'DejaVu Serif', serif" textLength='100.30' lengthAdjust='spacingAndGlyphs' stroke='#000' stroke-width='0.4'>scaling</text>
<text transform='translate(642.00,584.70) scale(1,1.04)' x='0' y='0' font-size='34.5' font-family="'Liberation Serif', 'DejaVu Serif', serif" textLength='79.30' lengthAdjust='spacingAndGlyphs' stroke='#000' stroke-width='0.4'>curve</text>
<text transform='translate(1127.30,584.80) scale(1,1.04)' x='0' y='0' font-size='34.5' font-family="'Liberation Serif', 'DejaVu Serif', serif" textLength='36.00' lengthAdjust='spacingAndGlyphs' stroke='#000' stroke-width='0.4'>(b)</text>
<text transform='translate(1179.90,584.80) scale(1,1.04)' x='0' y='0' font-size='34.5' font-family="'Liberation Serif', 'DejaVu Serif', serif" textLength='127.40' lengthAdjust='spacingAndGlyphs' stroke='#000' stroke-width='0.4'>Learning</text>
<text transform='translate(1318.00,584.80) scale(1,1.04)' x='0' y='0' font-size='34.5' font-family="'Liberation Serif', 'DejaVu Serif', serif" textLength='53.30' lengthAdjust='spacingAndGlyphs' stroke='#000' stroke-width='0.4'>rate</text>
<text transform='translate(1382.00,584.80) scale(1,1.04)' x='0' y='0' font-size='34.5' font-family="'Liberation Serif', 'DejaVu Serif', serif" textLength='98.70' lengthAdjust='spacingAndGlyphs' stroke='#000' stroke-width='0.4'>scaling</text>
<text transform='translate(1490.00,584.80) scale(1,1.04)' x='0' y='0' font-size='34.5' font-family="'Liberation Serif', 'DejaVu Serif', serif" textLength='80.00' lengthAdjust='spacingAndGlyphs' stroke='#000' stroke-width='0.4'>curve</text>
<text transform='translate(112.50,683.00) scale(1,1.09)' x='0' y='0' font-size='38' font-family="'Liberation Serif', 'DejaVu Serif', serif" textLength='108.75' lengthAdjust='spacingAndGlyphs' stroke='#000' stroke-width='0.4'>Figure</text>
<text transform='translate(232.50,683.00) scale(1,1.09)' x='0' y='0' font-size='38' font-family="'Liberation Serif', 'DejaVu Serif', serif" textLength='17.50' lengthAdjust='spacingAndGlyphs' stroke='#000' stroke-width='0.4'>3</text>
<text x='265.7' y='683.0' font-size='38' text-anchor='middle' font-family="'Liberation Serif', 'DejaVu Serif', serif" stroke='#000' stroke-width='0.9' transform='translate(0,-1.3)'>|</text>
<text transform='translate(280.50,683.00) scale(1,1.09)' x='0' y='0' font-size='38' font-family="'Liberation Serif', 'DejaVu Serif', serif" textLength='123.25' lengthAdjust='spacingAndGlyphs' stroke='#000' stroke-width='0.4'>Scaling</text>
<text transform='translate(413.75,683.00) scale(1,1.09)' x='0' y='0' font-size='38' font-family="'Liberation Serif', 'DejaVu Serif', serif" textLength='111.25' lengthAdjust='spacingAndGlyphs' stroke='#000' stroke-width='0.4'>curves</text>
<text transform='translate(536.25,683.00) scale(1,1.09)' x='0' y='0' font-size='38' font-family="'Liberation Serif', 'DejaVu Serif', serif" textLength='33.75' lengthAdjust='spacingAndGlyphs' stroke='#000' stroke-width='0.4'>of</text>
<text transform='translate(580.00,683.00) scale(1,1.09)' x='0' y='0' font-size='38' font-family="'Liberation Serif', 'DejaVu Serif', serif" textLength='91.25' lengthAdjust='spacingAndGlyphs' stroke='#000' stroke-width='0.4'>batch</text>
<text transform='translate(681.25,683.00) scale(1,1.09)' x='0' y='0' font-size='38' font-family="'Liberation Serif', 'DejaVu Serif', serif" textLength='65.00' lengthAdjust='spacingAndGlyphs' stroke='#000' stroke-width='0.4'>size</text>
<text transform='translate(756.25,683.00) scale(1,1.09)' x='0' y='0' font-size='38' font-family="'Liberation Serif', 'DejaVu Serif', serif" textLength='63.75' lengthAdjust='spacingAndGlyphs' stroke='#000' stroke-width='0.4'>and</text>
<text transform='translate(831.25,683.00) scale(1,1.09)' x='0' y='0' font-size='38' font-family="'Liberation Serif', 'DejaVu Serif', serif" textLength='141.75' lengthAdjust='spacingAndGlyphs' stroke='#000' stroke-width='0.4'>learning</text>
<text transform='translate(983.75,683.00) scale(1,1.09)' x='0' y='0' font-size='38' font-family="'Liberation Serif', 'DejaVu Serif', serif" textLength='72.50' lengthAdjust='spacingAndGlyphs' stroke='#000' stroke-width='0.4'>rate.</text>
<text transform='translate(1073.75,683.00) scale(1,1.09)' x='0' y='0' font-size='38' font-family="'Liberation Serif', 'DejaVu Serif', serif" textLength='62.50' lengthAdjust='spacingAndGlyphs' stroke='#000' stroke-width='0.4'>The</text>
<text transform='translate(1146.25,683.00) scale(1,1.09)' x='0' y='0' font-size='38' font-family="'Liberation Serif', 'DejaVu Serif', serif" textLength='72.50' lengthAdjust='spacingAndGlyphs' stroke='#000' stroke-width='0.4'>grey</text>
<text transform='translate(1231.25,683.00) scale(1,1.09)' x='0' y='0' font-size='38' font-family="'Liberation Serif', 'DejaVu Serif', serif" textLength='105.00' lengthAdjust='spacingAndGlyphs' stroke='#000' stroke-width='0.4'>circles</text>
<text transform='translate(1347.50,683.00) scale(1,1.09)' x='0' y='0' font-size='38' font-family="'Liberation Serif', 'DejaVu Serif', serif" textLength='158.75' lengthAdjust='spacingAndGlyphs' stroke='#000' stroke-width='0.4'>represent</text>
<text transform='translate(1516.25,683.00) scale(1,1.09)' x='0' y='0' font-size='38' font-family="'Liberation Serif', 'DejaVu Serif', serif" textLength='125.00' lengthAdjust='spacingAndGlyphs' stroke='#000' stroke-width='0.4'>models</text>
<text transform='translate(1651.25,683.00) scale(1,1.09)' x='0' y='0' font-size='38' font-family="'Liberation Serif', 'DejaVu Serif', serif" textLength='110.00' lengthAdjust='spacingAndGlyphs' stroke='#000' stroke-width='0.4'>whose</text>
<text transform='translate(112.50,731.60) scale(1,1.09)' x='0' y='0' font-size='38' font-family="'Liberation Serif', 'DejaVu Serif', serif" textLength='247.50' lengthAdjust='spacingAndGlyphs' stroke='#000' stroke-width='0.4'>generalization</text>
<text transform='translate(371.25,731.60) scale(1,1.09)' x='0' y='0' font-size='38' font-family="'Liberation Serif', 'DejaVu Serif', serif" textLength='83.75' lengthAdjust='spacingAndGlyphs' stroke='#000' stroke-width='0.4'>error</text>
<text transform='translate(466.25,731.60) scale(1,1.09)' x='0' y='0' font-size='38' font-family="'Liberation Serif', 'DejaVu Serif', serif" textLength='160.00' lengthAdjust='spacingAndGlyphs' stroke='#000' stroke-width='0.4'>exceeded</text>
<text transform='translate(638.75,731.60) scale(1,1.09)' x='0' y='0' font-size='38' font-family="'Liberation Serif', 'DejaVu Serif', serif" textLength='53.75' lengthAdjust='spacingAndGlyphs' stroke='#000' stroke-width='0.4'>the</text>
<text transform='translate(702.50,731.60) scale(1,1.09)' x='0' y='0' font-size='38' font-family="'Liberation Serif', 'DejaVu Serif', serif" textLength='173.75' lengthAdjust='spacingAndGlyphs' stroke='#000' stroke-width='0.4'>minimum</text>
<text transform='translate(887.50,731.60) scale(1,1.09)' x='0' y='0' font-size='38' font-family="'Liberation Serif', 'DejaVu Serif', serif" textLength='42.50' lengthAdjust='spacingAndGlyphs' stroke='#000' stroke-width='0.4'>by</text>
<text transform='translate(941.25,731.60) scale(1,1.09)' x='0' y='0' font-size='38' font-family="'Liberation Serif', 'DejaVu Serif', serif" textLength='42.75' lengthAdjust='spacingAndGlyphs' stroke='#000' stroke-width='0.4'>no</text>
<text transform='translate(996.25,731.60) scale(1,1.09)' x='0' y='0' font-size='38' font-family="'Liberation Serif', 'DejaVu Serif', serif" textLength='88.75' lengthAdjust='spacingAndGlyphs' stroke='#000' stroke-width='0.4'>more</text>
<text transform='translate(1096.25,731.60) scale(1,1.09)' x='0' y='0' font-size='38' font-family="'Liberation Serif', 'DejaVu Serif', serif" textLength='76.25' lengthAdjust='spacingAndGlyphs' stroke='#000' stroke-width='0.4'>than</text>
<text transform='translate(1185.00,731.60) scale(1,1.09)' x='0' y='0' font-size='38' font-family="'Liberation Serif', 'DejaVu Serif', serif" textLength='108.75' lengthAdjust='spacingAndGlyphs' stroke='#000' stroke-width='0.4'>0.25%.</text>
<text transform='translate(1311.25,731.60) scale(1,1.09)' x='0' y='0' font-size='38' font-family="'Liberation Serif', 'DejaVu Serif', serif" textLength='62.50' lengthAdjust='spacingAndGlyphs' stroke='#000' stroke-width='0.4'>The</text>
<text transform='translate(1385.00,731.60) scale(1,1.09)' x='0' y='0' font-size='38' font-family="'Liberation Serif', 'DejaVu Serif', serif" textLength='110.00' lengthAdjust='spacingAndGlyphs' stroke='#000' stroke-width='0.4'>dotted</text>
<text transform='translate(1508.75,731.60) scale(1,1.09)' x='0' y='0' font-size='38' font-family="'Liberation Serif', 'DejaVu Serif', serif" textLength='63.75' lengthAdjust='spacingAndGlyphs' stroke='#000' stroke-width='0.4'>line</text>
<text transform='translate(1583.75,731.60) scale(1,1.09)' x='0' y='0' font-size='38' font-family="'Liberation Serif', 'DejaVu Serif', serif" textLength='177.50' lengthAdjust='spacingAndGlyphs' stroke='#000' stroke-width='0.4'>represents</text>
<text transform='translate(112.50,780.30) scale(1,1.09)' x='0' y='0' font-size='38' font-family="'Liberation Serif', 'DejaVu Serif', serif" textLength='52.50' lengthAdjust='spacingAndGlyphs' stroke='#000' stroke-width='0.4'>the</text>
<text transform='translate(176.25,780.30) scale(1,1.09)' x='0' y='0' font-size='38' font-family="'Liberation Serif', 'DejaVu Serif', serif" textLength='112.50' lengthAdjust='spacingAndGlyphs' stroke='#000' stroke-width='0.4'>power</text>
<text transform='translate(300.00,780.30) scale(1,1.09)' x='0' y='0' font-size='38' font-family="'Liberation Serif', 'DejaVu Serif', serif" textLength='63.75' lengthAdjust='spacingAndGlyphs' stroke='#000' stroke-width='0.4'>law</text>
<text transform='translate(375.00,780.30) scale(1,1.09)' x='0' y='0' font-size='38' font-family="'Liberation Serif', 'DejaVu Serif', serif" textLength='105.00' lengthAdjust='spacingAndGlyphs' stroke='#000' stroke-width='0.4'>fitting</text>
<text transform='translate(490.00,780.30) scale(1,1.09)' x='0' y='0' font-size='38' font-family="'Liberation Serif', 'DejaVu Serif', serif" textLength='50.00' lengthAdjust='spacingAndGlyphs' stroke='#000' stroke-width='0.4'>the</text>
<text transform='translate(556.25,780.30) scale(1,1.09)' x='0' y='0' font-size='38' font-family="'Liberation Serif', 'DejaVu Serif', serif" textLength='127.50' lengthAdjust='spacingAndGlyphs' stroke='#000' stroke-width='0.4'>smaller</text>
<text transform='translate(695.00,780.30) scale(1,1.09)' x='0' y='0' font-size='38' font-family="'Liberation Serif', 'DejaVu Serif', serif" textLength='120.00' lengthAdjust='spacingAndGlyphs' stroke='#000' stroke-width='0.4'>model.</text>
<text transform='translate(830.00,780.30) scale(1,1.09)' x='0' y='0' font-size='38' font-family="'Liberation Serif', 'DejaVu Serif', serif" textLength='65.00' lengthAdjust='spacingAndGlyphs' stroke='#000' stroke-width='0.4'>The</text>
<text transform='translate(905.00,780.30) scale(1,1.09)' x='0' y='0' font-size='38' font-family="'Liberation Serif', 'DejaVu Serif', serif" textLength='75.00' lengthAdjust='spacingAndGlyphs' stroke='#000' stroke-width='0.4'>blue</text>
<text transform='translate(992.50,780.30) scale(1,1.09)' x='0' y='0' font-size='38' font-family="'Liberation Serif', 'DejaVu Serif', serif" textLength='80.00' lengthAdjust='spacingAndGlyphs' stroke='#000' stroke-width='0.4'>stars</text>
<text transform='translate(1085.00,780.30) scale(1,1.09)' x='0' y='0' font-size='38' font-family="'Liberation Serif', 'DejaVu Serif', serif" textLength='160.00' lengthAdjust='spacingAndGlyphs' stroke='#000' stroke-width='0.4'>represent</text>
<text transform='translate(1258.75,780.30) scale(1,1.09)' x='0' y='0' font-size='38' font-family="'Liberation Serif', 'DejaVu Serif', serif" textLength='171.25' lengthAdjust='spacingAndGlyphs' stroke='#000' stroke-width='0.4'>DeepSeek</text>
<text transform='translate(1442.50,780.30) scale(1,1.09)' x='0' y='0' font-size='38' font-family="'Liberation Serif', 'DejaVu Serif', serif" textLength='82.50' lengthAdjust='spacingAndGlyphs' stroke='#000' stroke-width='0.4'>LLM</text>
<text transform='translate(1536.25,780.30) scale(1,1.09)' x='0' y='0' font-size='38' font-family="'Liberation Serif', 'DejaVu Serif', serif" textLength='43.75' lengthAdjust='spacingAndGlyphs' stroke='#000' stroke-width='0.4'>7B</text>
<text transform='translate(1591.25,780.30) scale(1,1.09)' x='0' y='0' font-size='38' font-family="'Liberation Serif', 'DejaVu Serif', serif" textLength='65.00' lengthAdjust='spacingAndGlyphs' stroke='#000' stroke-width='0.4'>and</text>
<text transform='translate(1668.75,780.30) scale(1,1.09)' x='0' y='0' font-size='38' font-family="'Liberation Serif', 'DejaVu Serif', serif" textLength='71.25' lengthAdjust='spacingAndGlyphs' stroke='#000' stroke-width='0.4'>67B.</text>
</svg>
</body></html>
